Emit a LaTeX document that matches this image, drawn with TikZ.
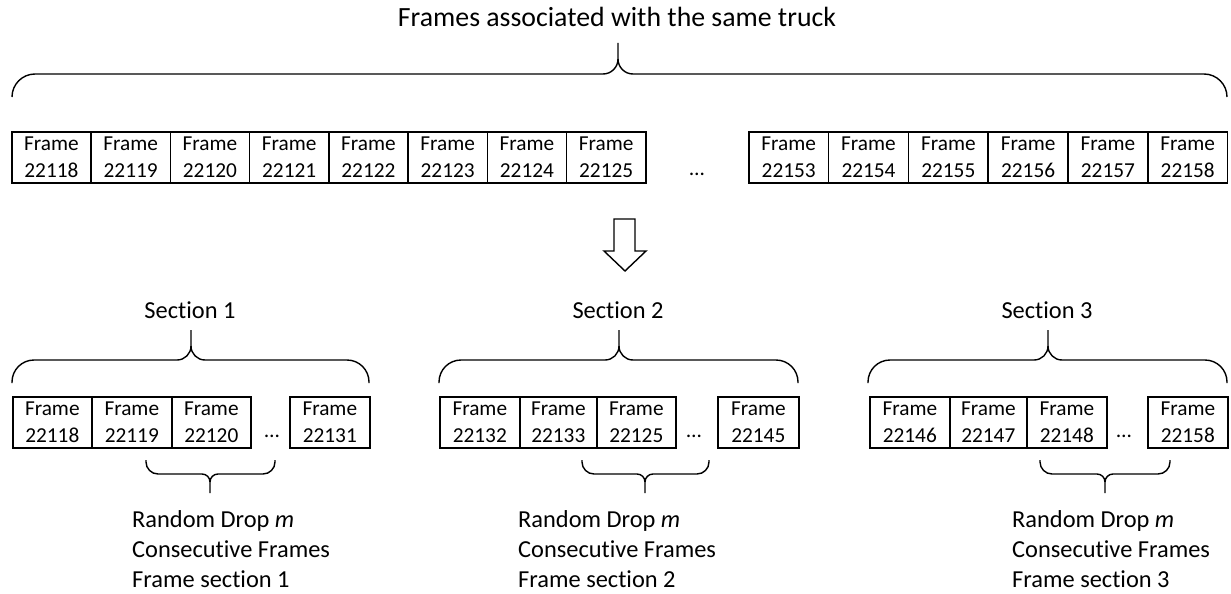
\documentclass[tikz,border=0pt]{standalone}
\usepackage{fontspec}
\setmainfont{Carlito}[Ligatures=NoCommon]
\newcommand\mybrace[8]{%
  \pgfmathsetmacro\bs{(#4>#5)?1:-1}%
  \draw[brc] (#1,#4) -- ({#1},{#5+\bs*#7})
    .. controls ({#1},{#5+\bs*0.448*#7}) and ({#1+0.448*#7},{#5}) .. ({#1+#7},{#5})
    -- ({#3-#8},{#5})
    .. controls ({#3-0.448*#8},{#5}) and ({#3},{#5-\bs*0.448*#8}) .. ({#3},{#5-\bs*#8})
    -- (#3,#6);
  \draw[brc] (#2,#4) -- ({#2},{#5+\bs*#7})
    .. controls ({#2},{#5+\bs*0.448*#7}) and ({#2-0.448*#7},{#5}) .. ({#2-#7},{#5})
    -- ({#3+#8},{#5})
    .. controls ({#3+0.448*#8},{#5}) and ({#3},{#5-\bs*0.448*#8}) .. ({#3},{#5-\bs*#8});
}
\tikzset{
  frm/.style={draw, line width=1.6pt, minimum height=51pt, inner sep=0pt, align=center,
    font=\fontsize{21.3}{27}\selectfont, anchor=north west},
  brc/.style={line width=1.4pt},
  lab/.style={font=\fontsize{24.4}{30}\selectfont, inner sep=0pt},
  ttl/.style={font=\fontsize{27.8}{32}\selectfont, inner sep=0pt, anchor=base},
  dts/.style={font=\fontsize{21.3}{27}\selectfont, inner sep=0pt, anchor=base},
}
\begin{document}
\begin{tikzpicture}[x=1pt, y=-1pt]
\useasboundingbox (0,0) rectangle (1231,594);
% title and top brace
\node[ttl] (title) at (617,27) {Frames associated with the same truck};
\mybrace{12}{1227}{618}{97}{74}{43}{23}{15}
% top row
\foreach \n [count=\i from 0] in {22118,22119,22120,22121,22122,22123,22124,22125}
  \node[frm, minimum width=79.25pt] (t\n) at ({11+\i*79.25},131) {Frame\\\n};
\node[dts] (tdots) at (697,175) {…};
\foreach \n [count=\i from 0] in {22153,22154,22155,22156,22157,22158}
  \node[frm, minimum width=79.8pt] (t\n) at ({748+\i*79.8},131) {Frame\\\n};
% arrow
\draw[line width=1.4pt, line join=miter] (614,219) -- (635,219) -- (635,251) -- (646,251)
  -- (625,271) -- (604,251) -- (614,251) -- cycle;
% Section 1
\node[lab, anchor=base] (s1) at (190,318) {Section 1};
\mybrace{12}{369}{191}{383}{360}{330}{22}{14}
\node[frm, minimum width=79pt] (a1) at (12,396) {Frame\\22118};
\node[frm, minimum width=80pt] (a2) at (91,396) {Frame\\22119};
\node[frm, minimum width=79pt] (a3) at (171,396) {Frame\\22120};
\node[dts] (adots) at (272,437) {…};
\node[frm, minimum width=80pt] (a4) at (289,396) {Frame\\22131};
\mybrace{146}{275}{210}{460}{474}{493}{12}{8}
\node[lab, anchor=base west] (r1a) at (132,527) {Random Drop \textit{m}};
\node[lab, anchor=base west] (r1b) at (132,557) {Consecutive Frames};
\node[lab, anchor=base west] (r1c) at (132,587) {Frame section 1};
% Section 2
\node[lab, anchor=base] (s2) at (618,318) {Section 2};
\mybrace{439}{798}{619}{383}{360}{330}{22}{14}
\node[frm, minimum width=80pt] (b1) at (439,396) {Frame\\22132};
\node[frm, minimum width=77pt] (b2) at (519,396) {Frame\\22133};
\node[frm, minimum width=79pt] (b3) at (596,396) {Frame\\22125};
\node[dts] (bdots) at (694,437) {…};
\node[frm, minimum width=81pt] (b4) at (717,396) {Frame\\22145};
\mybrace{582}{709}{645}{460}{474}{493}{12}{8}
\node[lab, anchor=base west] (r2a) at (518,527) {Random Drop \textit{m}};
\node[lab, anchor=base west] (r2b) at (518,557) {Consecutive Frames};
\node[lab, anchor=base west] (r2c) at (518,587) {Frame section 2};
% Section 3
\node[lab, anchor=base] (s3) at (1047,318) {Section 3};
\mybrace{868}{1227}{1048}{383}{360}{330}{22}{14}
\node[frm, minimum width=80pt] (c1) at (869,396) {Frame\\22146};
\node[frm, minimum width=77pt] (c2) at (949,396) {Frame\\22147};
\node[frm, minimum width=80pt] (c3) at (1026,396) {Frame\\22148};
\node[dts] (cdots) at (1124,437) {…};
\node[frm, minimum width=80pt] (c4) at (1147,396) {Frame\\22158};
\mybrace{1040}{1170}{1105}{460}{474}{493}{12}{8}
\node[lab, anchor=base west] (r3a) at (1012,527) {Random Drop \textit{m}};
\node[lab, anchor=base west] (r3b) at (1012,557) {Consecutive Frames};
\node[lab, anchor=base west] (r3c) at (1012,587) {Frame section 3};
\end{tikzpicture}
\end{document}
